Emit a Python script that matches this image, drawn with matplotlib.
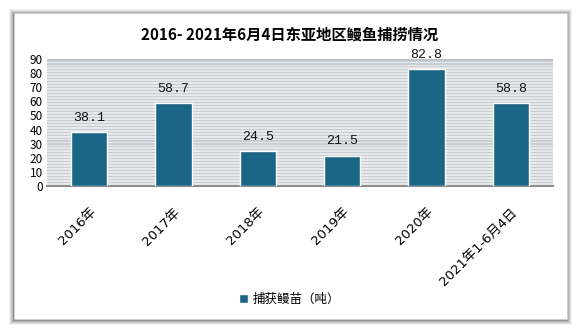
import matplotlib.pyplot as plt
from matplotlib.patches import Rectangle

plt.rcParams['font.family'] = ['Noto Sans CJK SC', 'DejaVu Sans']

# data
years = ["2016年", "2017年", "2018年", "2019年", "2020年", "2021年1-6月4日"]
catch = [38.1, 58.7, 24.5, 21.5, 82.8, 58.8]
y_ticks = [0, 10, 20, 30, 40, 50, 60, 70, 80, 90]
title = "2016- 2021年6月4日东亚地区鳗鱼捕捞情况"
series_name = "捕获鳗苗（吨）"

W, H = 579, 333
fig = plt.figure(figsize=(W / 100, H / 100), dpi=100)
fig.patch.set_facecolor("white")

# card with a soft shadow
cx0, cy0, cx1, cy1 = 14, 13, 567, 319
for i, a in enumerate([0.05, 0.07, 0.09, 0.12, 0.16]):
    g = 5 - i
    fig.patches.append(Rectangle(((cx0 - g) / W, 1 - (cy1 + g + 1) / H),
                                 (cx1 - cx0 + 2 * g) / W, (cy1 - cy0 + 2 * g) / H,
                                 transform=fig.transFigure, facecolor="black",
                                 alpha=a, edgecolor="none", zorder=0))
fig.patches.append(Rectangle((cx0 / W, 1 - cy1 / H), (cx1 - cx0) / W, (cy1 - cy0) / H,
                             transform=fig.transFigure, facecolor="white",
                             edgecolor="#d0d0d0", lw=0.5, zorder=1))

# plot area
left, right, top, bottom = 47, 553, 59, 186
ax = fig.add_axes([left / W, 1 - bottom / H, (right - left) / W, (bottom - top) / H])
ax.set_zorder(2)
ax.set_facecolor("#e6e9ec")

# striped background
y = 0.0
while y < 90:
    ax.axhspan(y, y + 0.75, color="#c9cdd3", lw=0, zorder=0)
    y += 2.1
ax.axhline(90, color="#b8bcc2", lw=1, zorder=0)

x = range(len(years))
bars = ax.bar(x, catch, width=0.43, color="#1b6586", edgecolor="white", lw=1, zorder=3)
for xi, v in zip(x, catch):
    ax.text(xi, v + 6, f"{v}", ha="center", va="bottom", fontsize=9.5,
            family=["Liberation Mono", "DejaVu Sans"], color="#111111")

ax.set_xlim(-0.5, len(years) - 0.5)
ax.set_ylim(0, 90)
ax.set_yticks(y_ticks)
ax.set_yticklabels([str(t) for t in y_ticks], fontsize=8.5)
ax.set_xticks(list(x))
ax.set_xticklabels(years, rotation=45, ha="right", va="top", fontsize=9.5,
                   rotation_mode="anchor", family=["DejaVu Sans", "Noto Sans CJK SC"])
ax.tick_params(axis="both", length=0, pad=3)
ax.tick_params(axis="x", pad=14)
for s in ["top", "right", "left"]:
    ax.spines[s].set_visible(False)
ax.spines["bottom"].set_color("#8e8e8e")
ax.spines["bottom"].set_linewidth(1.5)

fig.text(0.5, 1 - 35 / H, title, ha="center", va="center", fontsize=11,
         fontweight="bold", zorder=5)

leg = fig.legend([bars], [series_name], loc="center", bbox_to_anchor=(0.5, 1 - 299 / H),
                 frameon=False, fontsize=9, handlelength=0.7, handleheight=0.7,
                 handletextpad=0.4)

fig.savefig("out.png", dpi=100)
